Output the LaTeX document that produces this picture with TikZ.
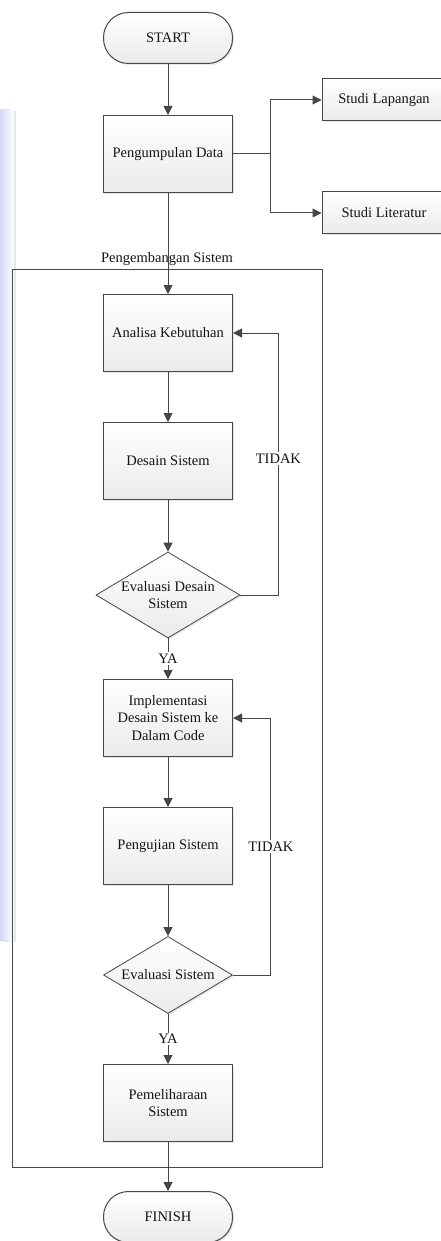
\documentclass[tikz,border=0pt]{standalone}
\usepackage{fontspec}
\setmainfont{Liberation Serif}
\usetikzlibrary{arrows.meta,shapes.geometric,shadows}
\definecolor{ln}{RGB}{70,70,70}
\definecolor{tx}{RGB}{20,20,20}
\definecolor{wm}{RGB}{215,215,248}
\begin{document}
\begin{tikzpicture}[x=1pt,y=-1pt,
  every node/.style={font=\fontsize{14.5}{17.5}\selectfont, text=tx},
  shade/.style={top color=white, bottom color=black!8, drop shadow={shadow xshift=1.5pt, shadow yshift=-1.5pt, opacity=0.18}},
  proc/.style={draw=ln, line width=1pt, shade, minimum width=129pt, minimum height=77pt, align=center, inner sep=2pt},
  side/.style={draw=ln, line width=1pt, shade, minimum width=124pt, minimum height=42pt, align=center},
  term/.style={draw=ln, line width=1pt, shade, rectangle, rounded corners=25pt, minimum width=129pt, minimum height=51pt},
  dec/.style={draw=ln, line width=0.8pt, diamond, shade, aspect=1.67, inner sep=0pt, align=center},
  arr/.style={draw=ln, line width=1pt, -{Triangle[length=9pt,width=9pt]}},
  lbl/.style={fill=white, inner sep=1.5pt},
]
\useasboundingbox (0,0) rectangle (441,1241);
\fill[white] (0,0) rectangle (441,1241);
\shade[left color=wm, right color=white] (0,110) rectangle (14,940);

% container
\node[draw=ln, line width=1pt, minimum width=310pt, minimum height=898pt, anchor=north west, inner sep=0pt] (dev) at (12,269) {};
\node (devlbl) at (167,259) {Pengembangan Sistem};

\node[term] (start) at (168,38) {START};
\node[proc] (pd) at (168,154) {Pengumpulan Data};
\node[side] (sl) at (384,100) {Studi Lapangan};
\node[side] (slit) at (384,213) {Studi Literatur};
\coordinate (br) at (270,154);

\node[proc] (ak) at (168,333) {Analisa Kebutuhan};
\node[proc] (ds) at (168,461) {Desain Sistem};
\node[dec, minimum width=144pt, minimum height=86pt] (ev1) at (168,595) {Evaluasi Desain\\Sistem};
\node[proc] (impl) at (168,718) {Implementasi\\Desain Sistem ke\\Dalam Code};
\node[proc] (uji) at (168,846) {Pengujian Sistem};
\node[dec, minimum width=129pt, minimum height=77pt] (ev2) at (168,975) {Evaluasi Sistem};
\node[proc] (pem) at (168,1103) {Pemeliharaan\\Sistem};
\node[term] (fin) at (168,1217) {FINISH};

\draw[arr] (start) -- (pd);
\draw[draw=ln, line width=1pt] (pd.east) -- (br);
\draw[arr] (br) |- (sl.west);
\draw[arr] (br) |- (slit.west);
\draw[arr] (pd) -- (ak);
\draw[arr] (ak) -- (ds);
\draw[arr] (ds) -- (ev1);
\draw[arr] (ev1.east) -- ++(38,0) |- node[pos=0.26, lbl] {TIDAK} (ak.east);
\draw[arr] (ev1.south) -- node[lbl] {YA} (impl.north);
\draw[arr] (impl) -- (uji);
\draw[arr] (uji) -- (ev2);
\draw[arr] (ev2.east) -- ++(38,0) |- node[pos=0.25, lbl] {TIDAK} (impl.east);
\draw[arr] (ev2.south) -- node[lbl] {YA} (pem.north);
\draw[arr] (pem) -- (fin);
\end{tikzpicture}
\end{document}
